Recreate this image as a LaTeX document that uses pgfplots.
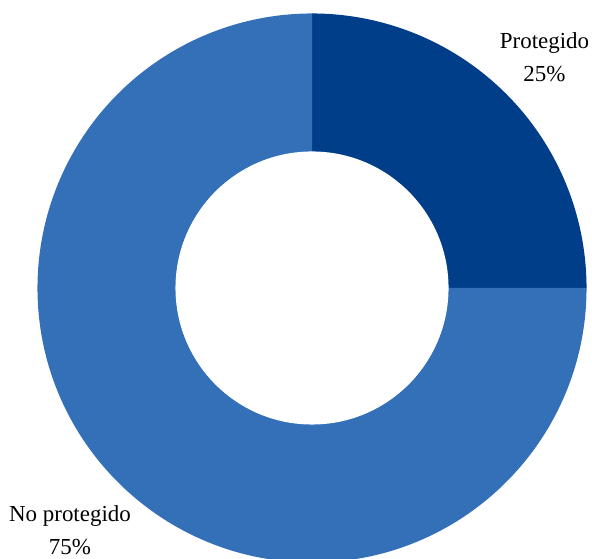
\documentclass[border=0pt]{standalone}
\usepackage{pgfplots}
\usepackage{pgfplotstable}
\usepackage{fontspec}
\setmainfont{Liberation Serif}
\pgfplotsset{compat=1.18}
\usetikzlibrary{calc}

\definecolor{protblue}{RGB}{0,62,137}
\definecolor{noprotblue}{RGB}{52,112,183}

% share of each slice (percent)
\pgfplotstableread{
label value
Protegido 25
NoProtegido 75
}\datatable

\begin{document}
\begin{tikzpicture}
  \pgfplotstablegetelem{0}{value}\of\datatable \let\valA\pgfplotsretval
  \pgfplotstablegetelem{1}{value}\of\datatable \let\valB\pgfplotsretval
  \pgfmathsetmacro{\aStart}{90}
  \pgfmathsetmacro{\aMid}{90-3.6*\valA}
  \pgfmathsetmacro{\aEnd}{\aMid-3.6*\valB}
  \def\Rout{205.9pt}
  \def\Rin{102.4pt}
  \path[use as bounding box] (0,0) rectangle (444pt,419.25pt);
  \begin{axis}[
      at={(0,0)}, anchor=south west,
      scale only axis,
      width=444pt, height=419.25pt,
      xmin=0, xmax=592, ymin=0, ymax=559,
      hide axis,
      clip=true,
    ]
    \coordinate (c) at (axis cs:312,271);
    \fill[protblue] (c) -- ($(c)+(\aStart:\Rout)$)
      arc[start angle=\aStart, end angle=\aMid, radius=\Rout] -- cycle;
    \fill[noprotblue] (c) -- ($(c)+(\aMid:\Rout)$)
      arc[start angle=\aMid, end angle=\aEnd, radius=\Rout] -- cycle;
    \fill[white] (c) circle[radius=\Rin];

    % slice labels
    \node[align=center, font=\fontsize{17.2}{25}\selectfont]
      at (axis cs:544.5,502) {Protegido\\\valA\%};
    \node[align=center, font=\fontsize{17.2}{25}\selectfont]
      at (axis cs:70,28.5) {No protegido\\\valB\%};
  \end{axis}
\end{tikzpicture}
\end{document}
